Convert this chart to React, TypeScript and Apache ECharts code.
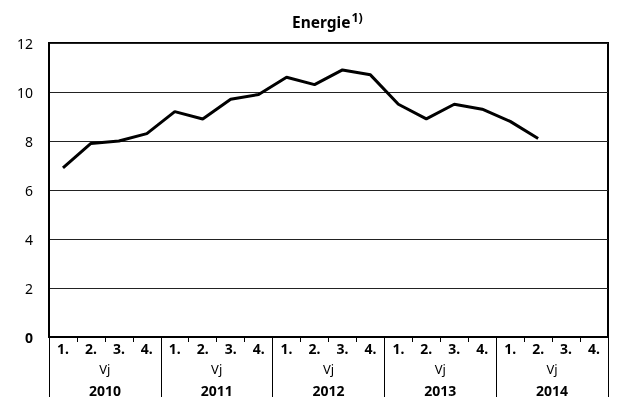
import React, { useEffect, useRef } from "react";
import * as echarts from "echarts";

const quarters = ["1.", "2.", "3.", "4.", "1.", "2.", "3.", "4.", "1.", "2.", "3.", "4.", "1.", "2.", "3.", "4.", "1.", "2.", "3.", "4."];
const years = ["2010", "2011", "2012", "2013", "2014"];
const values: (number | null)[] = [6.9, 7.9, 8.0, 8.3, 9.2, 8.9, 9.7, 9.9, 10.6, 10.3, 10.9, 10.7, 9.5, 8.9, 9.5, 9.3, 8.8, 8.1, null, null];
const yTicks = [0, 2, 4, 6, 8, 10, 12];

const FONT = "Noto Sans";

export default function App() {
  const ref = useRef<HTMLDivElement>(null);
  useEffect(() => {
    if (!ref.current) return;
    const chart = echarts.init(ref.current, null, { renderer: "svg" });
    chart.setOption({
      animation: false,
      title: {
        text: "{t|Energie}{s|1)}",
        left: 287,
        top: 6,
        textStyle: {
          rich: {
            t: { fontFamily: FONT, fontSize: 15.5, fontWeight: "bold", color: "#000", lineHeight: 22 },
            s: { fontFamily: FONT, fontSize: 12.5, color: "#000", verticalAlign: "top", lineHeight: 13, padding: [0, 0, 0, 1] },
          },
        },
      },
      grid: {
        left: 49,
        right: 11,
        top: 43,
        bottom: 63,
        show: true,
        borderColor: "#000",
        borderWidth: 2,
        containLabel: false,
      },
      xAxis: [
        {
          type: "category",
          data: quarters,
          position: "bottom",
          boundaryGap: true,
          axisLine: { show: true, onZero: false, lineStyle: { color: "#000", width: 2 } },
          axisTick: { show: true, length: 5, lineStyle: { color: "#000", width: 1 } },
          axisLabel: {
            margin: 4,
            interval: 0,
            fontFamily: FONT,
            fontSize: 14,
            fontWeight: "bold",
            color: "#000",
          },
        },
        {
          type: "category",
          data: years,
          position: "bottom",
          boundaryGap: true,
          axisLine: { show: false },
          axisTick: { show: true, length: 60, lineStyle: { color: "#000", width: 1 } },
          axisLabel: {
            margin: 21,
            interval: 0,
            formatter: (v: string) => "{v|Vj}\n{y|" + v + "}",
            rich: {
              v: { fontFamily: FONT, fontSize: 13, color: "#000", lineHeight: 21, align: "center" },
              y: { fontFamily: FONT, fontSize: 14, fontWeight: "bold", color: "#000", lineHeight: 22, align: "center" },
            },
          },
        },
      ],
      yAxis: {
        type: "value",
        min: 0,
        max: 12,
        interval: 2,
        axisLine: { show: true, lineStyle: { color: "#000", width: 2 } },
        axisTick: { show: false },
        splitLine: { show: true, lineStyle: { color: "#222", width: 1 } },
        axisLabel: {
          margin: 16,
          fontFamily: FONT,
          fontSize: 14,
          color: "#000",
          formatter: (v: number) => (yTicks.includes(v) ? (v === 0 ? "{b|0}" : String(v)) : ""),
          rich: { b: { fontFamily: FONT, fontSize: 14, fontWeight: "bold", color: "#000" } },
        },
      },
      series: [
        {
          type: "line",
          xAxisIndex: 0,
          data: values,
          symbol: "none",
          lineStyle: { color: "#000", width: 3 },
          connectNulls: false,
        },
      ],
    });
    return () => chart.dispose();
  }, []);
  return <div ref={ref} style={{ position: "fixed", left: 0, top: 0, width: 619, height: 400 }} />;
}
